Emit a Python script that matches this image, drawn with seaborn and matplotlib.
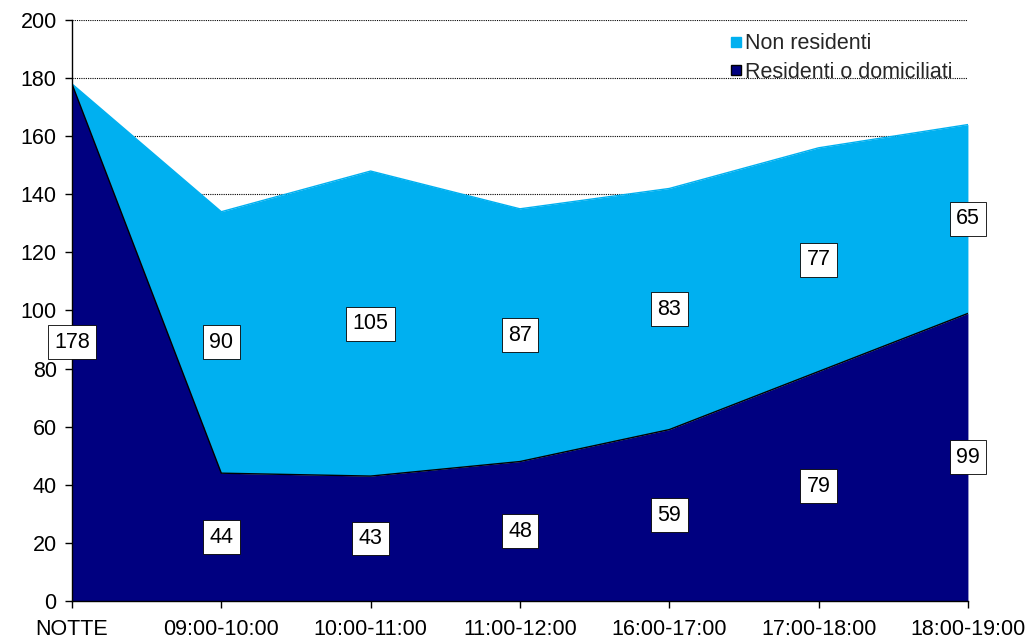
import matplotlib
matplotlib.use('Agg')
import matplotlib.pyplot as plt
from matplotlib.lines import Line2D
import seaborn as sns
import pandas as pd
import numpy as np

fasce = ['NOTTE', '09:00-10:00', '10:00-11:00', '11:00-12:00',
         '16:00-17:00', '17:00-18:00', '18:00-19:00']
residenti = [178, 44, 43, 48, 59, 79, 99]
non_residenti = [0, 90, 105, 87, 83, 77, 65]

sns.set_theme(style='white')
plt.rcParams['font.family'] = ['Liberation Sans', 'DejaVu Sans']

df = pd.DataFrame({'fascia': fasce, 'res': residenti, 'nonres': non_residenti})
df['x'] = np.arange(len(df))
df['tot'] = df['res'] + df['nonres']

fig = plt.figure(figsize=(10.34, 6.39), dpi=100)
ax = fig.add_axes([0.0696, 0.0595, 0.8665, 0.9092])

c_res = '#000080'
c_non = '#00B0F0'
fs = 15.5

ax.fill_between(df['x'], df['res'], df['tot'], color=c_non, lw=0, zorder=2)
ax.fill_between(df['x'], 0, df['res'], color=c_res, lw=0, zorder=3)
sns.lineplot(data=df, x='x', y='res', color='black', lw=1, ax=ax, zorder=4)
sns.lineplot(data=df, x='x', y='tot', color=c_non, lw=1, ax=ax, zorder=2)

bbox = dict(boxstyle='square,pad=0.3', fc='white', ec='black', lw=0.6)
for _, r in df.iterrows():
    ax.text(r['x'], r['res'] / 2, str(r['res']), ha='center', va='center',
            fontsize=fs, color='black', bbox=bbox, zorder=6)
    if r['nonres'] > 0:
        ax.text(r['x'], r['res'] + r['nonres'] / 2, str(r['nonres']),
                ha='center', va='center', fontsize=fs, color='black',
                bbox=bbox, zorder=6)

ax.set_xlim(0, len(df) - 1)
ax.set_ylim(0, 200)
ax.set_yticks(range(0, 201, 20))
ax.set_xticks(df['x'])
ax.set_xticklabels(fasce)
ax.tick_params(axis='both', labelsize=fs, labelcolor='black', color='black',
               direction='out', length=5, width=1, bottom=True, left=True)
ax.tick_params(axis='x', pad=8)
ax.tick_params(axis='y', pad=6)
ax.set_xlabel('')
ax.set_ylabel('')

ax.yaxis.grid(True, color='black', linestyle=(0, (1, 1)), lw=0.8, zorder=1)
ax.set_axisbelow(True)
for s in ['top', 'right']:
    ax.spines[s].set_visible(False)
for s in ['left', 'bottom']:
    ax.spines[s].set_color('black')
    ax.spines[s].set_linewidth(1)
    ax.spines[s].set_zorder(5)

handles = [
    Line2D([], [], marker='s', ls='', markersize=7, markerfacecolor=c_non,
           markeredgecolor=c_non, label='Non residenti'),
    Line2D([], [], marker='s', ls='', markersize=7, markerfacecolor=c_res,
           markeredgecolor='black', label='Residenti o domiciliati'),
]
ax.legend(handles=handles, loc='upper right', bbox_to_anchor=(1.0, 1.003),
          frameon=False, fontsize=fs, handlelength=0.5, handletextpad=0.2,
          labelspacing=0.35, borderpad=0.2)

fig.savefig('out.png', dpi=100)
